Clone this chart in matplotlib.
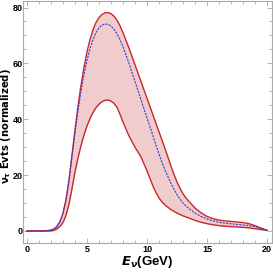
import matplotlib
matplotlib.use("Agg")
import matplotlib.pyplot as plt
from matplotlib.ticker import MultipleLocator

# energies (GeV) and event curves
energy = [0, 0.5, 1, 1.5, 2, 2.25, 2.5, 2.75, 3, 3.25, 3.5, 3.75, 4, 4.25,
          4.5, 4.75, 5, 5.25, 5.5, 5.75, 6, 6.25, 6.5, 6.75, 7, 7.25, 7.5,
          7.75, 8, 8.5, 9, 9.5, 10, 10.5, 10.75, 11, 11.25, 11.5, 12, 12.25,
          12.5, 12.75, 13, 13.25, 13.5, 14, 14.5, 15, 15.5, 16, 16.5, 17,
          17.5, 18, 18.5, 19, 19.5, 20]
upper = [0, 0, 0, 0, 0.3, 0.7, 1.6, 3.3, 6.2, 11, 18, 27, 36, 44.5,
         52, 58.5, 64, 68.5, 72, 74.6, 76.4, 77.5, 78.1, 78.2, 77.8, 76.9, 75.5,
         73.5, 71, 65.5, 59.5, 53.5, 47.5, 41.5, 38.5, 35.5, 32.5, 29.5, 23.2, 20.2,
         17.5, 15.2, 13.3, 11.8, 10.5, 8.2, 6.5, 5.2, 4.4, 3.9, 3.6, 3.4,
         3.2, 3.0, 2.6, 1.9, 1.0, 0.2]
central = [0, 0, 0, 0, 0.3, 0.7, 1.6, 3.3, 6.2, 11, 18, 26.5, 35, 43,
           50, 56, 61, 65.2, 68.5, 71, 72.7, 73.7, 74.1, 74, 73.4, 72.2, 70.6,
           68.5, 66, 60, 53.5, 47, 40.5, 34, 30.7, 27.5, 24.6, 21.8, 17, 14.9,
           13, 11.4, 10, 8.9, 8, 6.4, 5.2, 4.3, 3.6, 3.1, 2.8, 2.55,
           2.35, 2.15, 1.9, 1.55, 1.0, 0.2]
lower = [0, 0, 0, 0, 0, 0.2, 0.7, 1.6, 3, 5.5, 9.5, 15, 21, 26,
         30.5, 34.3, 37.5, 40.2, 42.4, 44.1, 45.4, 46.3, 46.8, 46.9, 46.5, 45.7, 44.3,
         41.8, 39, 34, 30, 26.5, 21.5, 16, 13.7, 11.8, 10.4, 9.3, 7.6, 7,
         6.4, 5.9, 5.4, 5, 4.6, 3.8, 3.1, 2.6, 2.2, 1.9, 1.7, 1.55,
         1.45, 1.3, 1.1, 0.8, 0.5, 0.2]

narrow = ['Liberation Sans Narrow', 'Liberation Sans', 'DejaVu Sans']
plt.rcParams['font.family'] = narrow
plt.rcParams['mathtext.fontset'] = 'custom'
plt.rcParams['mathtext.it'] = 'Liberation Sans Narrow:bold:italic'
plt.rcParams['mathtext.rm'] = 'Liberation Sans Narrow:bold'
plt.rcParams['mathtext.bf'] = 'Liberation Sans Narrow:bold'

fig = plt.figure(figsize=(2.73, 2.73), dpi=100)
ax = fig.add_axes([0.084, 0.11, 0.912, 0.888])

ax.fill_between(energy, lower, upper, color='#f0cccc', lw=0)
ax.plot(energy, upper, color='#c8282c', lw=1.0)
ax.plot(energy, lower, color='#c8282c', lw=1.0)
ax.plot(energy, central, color='#3a3ad0', lw=0.8, ls=(0, (2, 1)))

ax.set_xlim(-0.33, 20.4)
ax.set_ylim(-4.3, 82.5)
ax.xaxis.set_major_locator(MultipleLocator(5))
ax.xaxis.set_minor_locator(MultipleLocator(1))
ax.yaxis.set_major_locator(MultipleLocator(20))
ax.yaxis.set_minor_locator(MultipleLocator(5))
ax.tick_params(which='both', direction='in', top=True, right=True,
               color='#aaaaaa', width=0.6)
ax.tick_params(which='major', length=3.5, labelsize=6.5, pad=1.2)
ax.tick_params(axis='y', which='major', pad=0.3)
ax.tick_params(which='minor', length=2)
for lab in ax.get_xticklabels() + ax.get_yticklabels():
    lab.set_fontweight('bold')
for sp in ax.spines.values():
    sp.set_color('#aaaaaa')
    sp.set_linewidth(0.8)

ax.set_xlabel(r'$E_{\nu}$(GeV)', fontsize=9.5, fontweight='bold')
ax.xaxis.set_label_coords(0.5, -0.045)
ax.set_ylabel(r'$\mathbf{\nu}_{\mathbf{\tau}}$ Evts (normalized)', fontsize=7.2,
              fontweight='bold', family='DejaVu Sans', math_fontfamily='dejavusans')
ax.yaxis.set_label_coords(-0.038, 0.48)

fig.savefig('out.png', dpi=100)
